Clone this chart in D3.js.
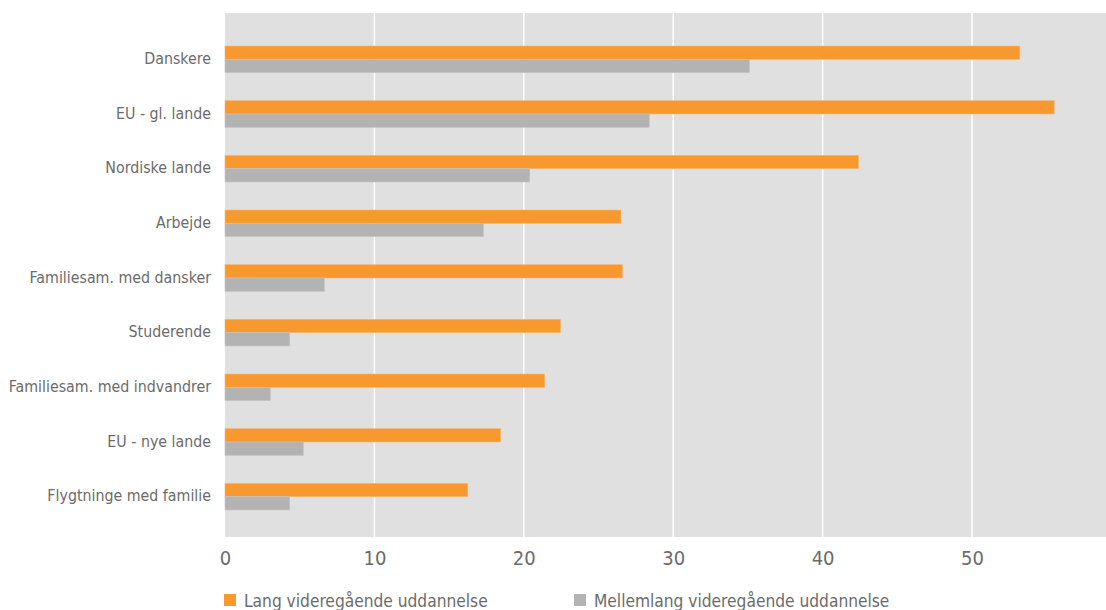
<!DOCTYPE html>
<html>
<head>
<meta charset="utf-8">
<script src="https://cdn.jsdelivr.net/npm/d3@7"></script>
<style>
  html, body { margin: 0; padding: 0; background: #fff; }
  svg { display: block; }
  text { font-family: "Liberation Sans Narrow", "DejaVu Sans Condensed", "Liberation Sans", sans-serif; fill: #6b6b6b; }
</style>
</head>
<body>
<svg id="chart" width="1106" height="610"></svg>
<script>
const categories = ["Danskere", "EU - gl. lande", "Nordiske lande", "Arbejde", "Familiesam. med dansker", "Studerende", "Familiesam. med indvandrer", "EU - nye lande", "Flygtninge med familie"];
const seriesNames = ["Lang videregående uddannelse", "Mellemlang videregående uddannelse"];
const langValues = [53.2, 55.5, 42.4, 26.5, 26.6, 22.45, 21.4, 18.45, 16.25];
const mellemValues = [35.1, 28.4, 20.4, 17.3, 6.65, 4.33, 3.03, 5.24, 4.33];
const xTicks = [0, 10, 20, 30, 40, 50];
const colors = ["#F7992F", "#B3B3B3"];
const strokes = ["#F8B56E", "#C4C4C4"];

const svg = d3.select("#chart");
const plot = { left: 225, right: 1106, top: 13, bottom: 537 };

const x = d3.scaleLinear().domain([0, 59]).range([plot.left, plot.left + 59 * 14.94]);
const y = d3.scaleBand().domain(categories).range([32, 524]).paddingInner(0.513).paddingOuter(0.2565);
const ySub = d3.scaleBand().domain([0, 1]).range([0, y.bandwidth()]);

// background
svg.append("rect")
  .attr("x", plot.left).attr("y", plot.top)
  .attr("width", plot.right - plot.left).attr("height", plot.bottom - plot.top)
  .attr("fill", "#E0E0E0");

// gridlines
svg.append("g").selectAll("line")
  .data(xTicks.filter(d => d > 0))
  .join("line")
  .attr("x1", d => x(d)).attr("x2", d => x(d))
  .attr("y1", plot.top).attr("y2", plot.bottom)
  .attr("stroke", "#ffffff").attr("stroke-width", 1.5);

// bars
const series = [langValues, mellemValues];
series.forEach((vals, si) => {
  svg.append("g").selectAll("rect")
    .data(categories.map((c, i) => ({ c, v: vals[i] })))
    .join("rect")
    .attr("x", x(0))
    .attr("y", d => y(d.c) + ySub(si))
    .attr("width", d => x(d.v) - x(0))
    .attr("height", ySub.bandwidth())
    .attr("fill", colors[si])
    .attr("stroke", strokes[si])
    .attr("stroke-width", 0.6);
});

// category labels
svg.append("g").selectAll("text")
  .data(categories)
  .join("text")
  .attr("x", 211)
  .attr("y", d => y(d) + y.bandwidth() / 2 + 4.5)
  .attr("text-anchor", "end")
  .attr("font-size", 15.8)
  .text(d => d);

// x axis tick labels
const xAxis = d3.axisBottom(x).tickValues(xTicks).tickSize(0).tickPadding(0);
const gx = svg.append("g").attr("transform", `translate(0, ${plot.bottom})`).call(xAxis);
gx.select(".domain").remove();
gx.selectAll("text")
  .attr("font-size", 20)
  .attr("dy", null)
  .attr("y", 28)
  .style("font-family", '"Liberation Sans Narrow", "DejaVu Sans Condensed", sans-serif')
  .attr("fill", "#6b6b6b");

// legend
const legendX = [224, 574];
const lg = svg.append("g");
seriesNames.forEach((name, i) => {
  lg.append("rect")
    .attr("x", legendX[i]).attr("y", 594)
    .attr("width", 12).attr("height", 12)
    .attr("fill", colors[i]);
  lg.append("text")
    .attr("x", legendX[i] + 20).attr("y", 607)
    .attr("font-size", 17.2)
    .text(name);
});
</script>
</body>
</html>
